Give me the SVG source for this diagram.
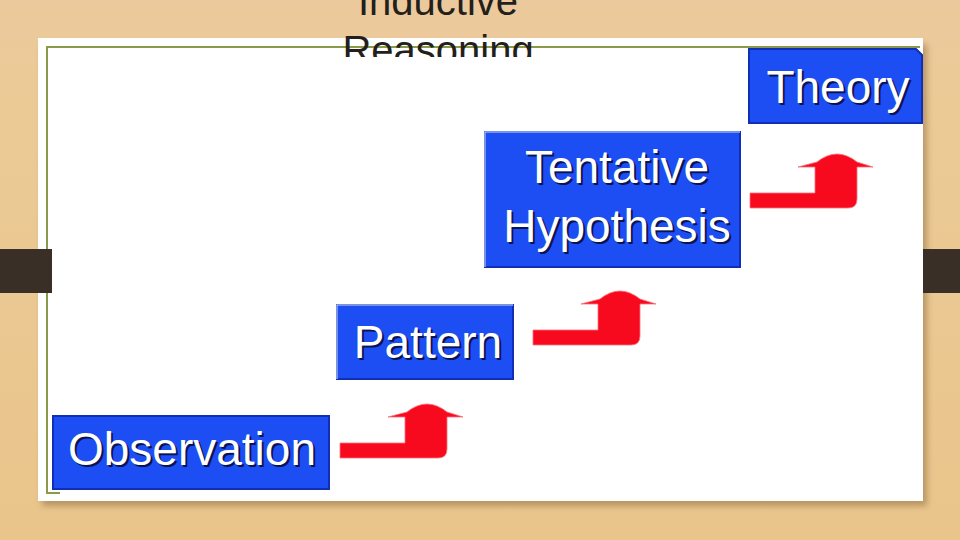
<svg xmlns="http://www.w3.org/2000/svg" width="960" height="540" viewBox="0 0 960 540">
  <defs>
    <linearGradient id="wood" x1="0" y1="0" x2="0" y2="1">
      <stop offset="0" stop-color="#ecc99c"/>
      <stop offset="0.2" stop-color="#ecca96"/>
      <stop offset="1" stop-color="#e9c58b"/>
    </linearGradient>
    <filter id="shadow" x="-5%" y="-5%" width="110%" height="115%">
      <feGaussianBlur stdDeviation="3"/>
    </filter>
    <clipPath id="titleClip">
      <rect x="0" y="-10" width="960" height="67"/>
    </clipPath>
    <path id="arrowShape" d="M340 443 H405 V417 H388 L407 412 Q427 396 447 412 L463 417 H447 V449 Q447 458 438 458 H340 Z"/>
    <style>
      .box { fill: #1c4ef3; stroke: #0f2fb4; stroke-width: 2; }
      .hl { fill: none; stroke: #9db4f4; stroke-width: 1.5; }
      .lbl { font-family: "Liberation Sans", Arial, sans-serif; font-size: 46px; text-anchor: middle; }
      .lbl-shadow { fill: #0a1450; }
      .lbl-main { fill: #ffffff; }
      .arrow { fill: #f80a1e; stroke: #ff6f7c; stroke-width: 0.8; }
      .title { font-family: "Liberation Sans", Arial, sans-serif; font-size: 40px; fill: #231f1c; text-anchor: middle; }
    </style>
  </defs>

  <!-- background -->
  <rect x="0" y="0" width="960" height="540" fill="url(#wood)"/>

  <!-- panel -->
  <rect x="42" y="44" width="885" height="462" fill="#7a5a30" opacity="0.45" filter="url(#shadow)"/>
  <rect x="38" y="38" width="885" height="463" fill="#ffffff"/>
  <polyline points="920,47 47,47 47,493 60,493" fill="none" stroke="#8a9a4a" stroke-width="2"/>

  <!-- dark bands -->
  <rect x="0" y="249" width="52" height="44" fill="#3a2f27"/>
  <rect x="923" y="249" width="37" height="44" fill="#3a2f27"/>

  <!-- title -->
  <g id="title" clip-path="url(#titleClip)">
    <text class="title" x="438" y="15">Inductive</text>
    <text class="title" x="438" y="64">Reasoning</text>
  </g>

  <!-- connectors -->
  <g id="connectors">
    <use href="#arrowShape" class="arrow"/>
    <use href="#arrowShape" class="arrow" transform="translate(193,-113)"/>
    <use href="#arrowShape" class="arrow" transform="translate(410,-250)"/>
  </g>

  <!-- nodes -->
  <g id="observation">
    <rect class="box" x="53" y="416" width="276" height="73"/>
    <text class="lbl lbl-shadow" x="194" y="467">Observation</text>
    <text class="lbl lbl-main" x="192" y="465">Observation</text>
  </g>

  <g id="pattern">
    <rect class="box" x="337" y="305" width="176" height="74"/>
    <polyline class="hl" points="337,379 337,305 513,305"/>
    <text class="lbl lbl-shadow" x="430" y="360">Pattern</text>
    <text class="lbl lbl-main" x="428" y="358">Pattern</text>
  </g>

  <g id="tentative-hypothesis">
    <rect class="box" x="485" y="132" width="255" height="135"/>
    <polyline class="hl" points="485,267 485,132 740,132"/>
    <text class="lbl lbl-shadow" x="619" y="185">Tentative</text>
    <text class="lbl lbl-main" x="617" y="183">Tentative</text>
    <text class="lbl lbl-shadow" x="619" y="244">Hypothesis</text>
    <text class="lbl lbl-main" x="617" y="242">Hypothesis</text>
  </g>

  <g id="theory">
    <path class="box" d="M749 49 H916 L922 55 V123 H749 Z"/>
    <text class="lbl lbl-shadow" x="840" y="105">Theory</text>
    <text class="lbl lbl-main" x="838" y="103">Theory</text>
  </g>
</svg>
